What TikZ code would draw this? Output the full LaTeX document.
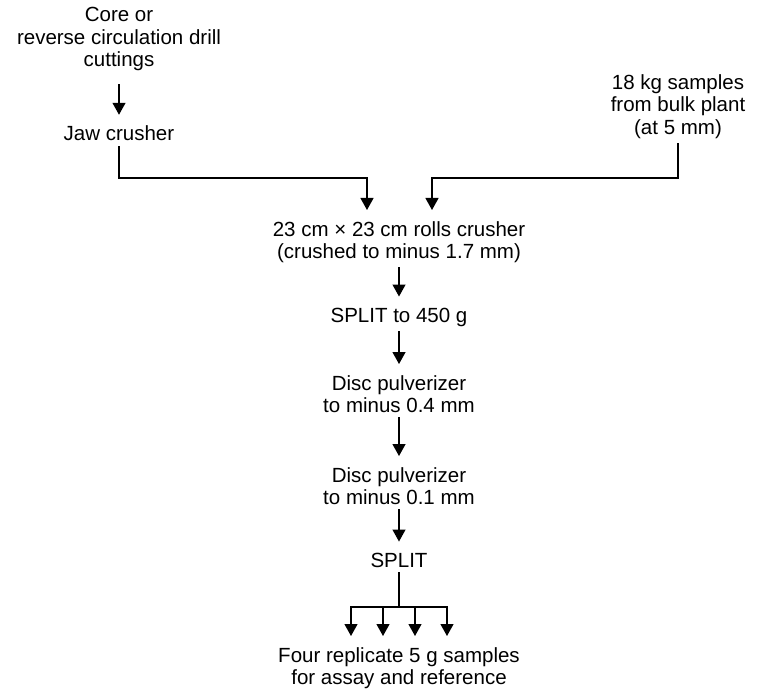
\documentclass[tikz,border=0pt]{standalone}
\usepackage{fontspec}
\setmainfont{Liberation Sans}
\usepackage{tikz}
\usetikzlibrary{arrows.meta}
\tikzset{
  prep/stage/.style={align=center, inner sep=5pt, font=\fontsize{20.5}{22.5}\selectfont},
  prep/wire/.style={line width=1.2pt, line cap=rect},
  prep/flow/.style={prep/wire, -{Triangle[length=12pt,width=13pt]}, shorten >=6pt}
}

\begin{document}
\begin{tikzpicture}[x=1pt, y=-1pt]
\useasboundingbox (0,0) rectangle (757,692);
\node[prep/stage] (core) at (119,39) {Core or\\reverse circulation drill\\cuttings};
\node[prep/stage] (jaw) at (119,133.5) {Jaw crusher};
\node[prep/stage] (bulk) at (678,106.5) {18 kg samples\\from bulk plant\\(at 5 mm)};
\node[prep/stage] (roll) at (399,242) {23 cm × 23 cm rolls crusher\\(crushed to minus 1.7 mm)};
\node[prep/stage] (split1) at (399,317) {SPLIT to 450 g};
\node[prep/stage] (disc1) at (399,394) {Disc pulverizer\\to minus 0.4 mm};
\node[prep/stage] (disc2) at (399,486) {Disc pulverizer\\to minus 0.1 mm};
\node[prep/stage] (split2) at (399,560) {SPLIT};
\node[prep/stage] (four) at (399,668) {Four replicate 5 g samples\\for assay and reference};

% feeds into the rolls crusher
\coordinate (inL) at (367,178);
\coordinate (inR) at (432,178);
\draw[prep/flow, shorten <=9pt] (core) -- (jaw);
\draw[prep/flow] (jaw) |- (inL) -- (inL |- roll.north);
\draw[prep/flow] (bulk) |- (inR) -- (inR |- roll.north);

% main column
\draw[prep/flow] (roll) -- (split1);
\draw[prep/flow] (split1) -- (disc1);
\draw[prep/flow] (disc1) -- (disc2);
\draw[prep/flow] (disc2) -- (split2);

% fan out to the replicates
\coordinate (fan) at (399,607);
\draw[prep/wire] (split2) -- (fan);
\foreach \i/\x in {1/351,2/383,3/415,4/447}{
  \coordinate (fan\i) at (\x,607);
  \draw[prep/flow] (fan\i) -- (fan\i |- four.north);
}
\draw[prep/wire] (fan1) -- (fan4);
\end{tikzpicture}
\end{document}
